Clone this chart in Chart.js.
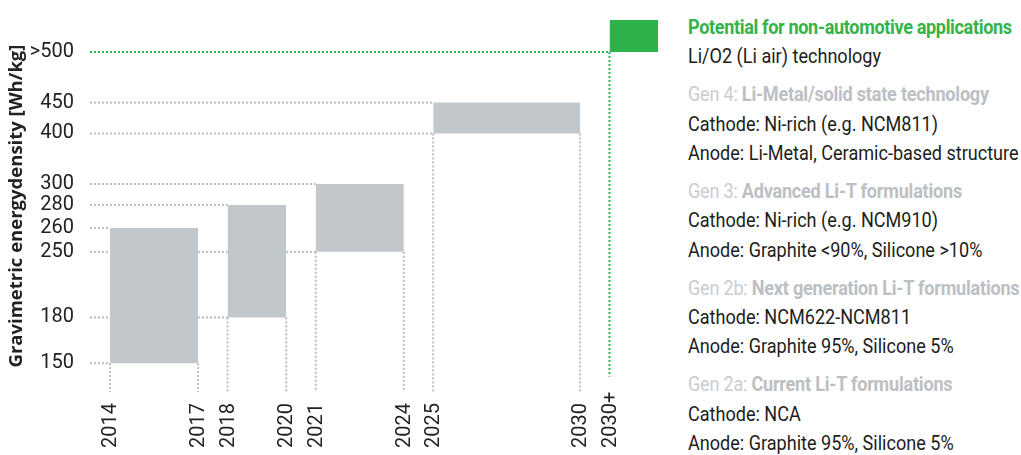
<!DOCTYPE html>
<html>
<head>
<meta charset="utf-8">
<script src="https://cdn.jsdelivr.net/npm/chart.js@4.4.0/dist/chart.umd.min.js"></script>
<style>
    html, body { margin: 0; padding: 0; background: #fff; }
    .wrap { position: relative; width: 1021px; height: 455px; overflow: hidden; }
    .chart-box { position: absolute; left: 0; top: 0; width: 680px; height: 455px; }
    .notes {
        position: absolute; left: 688px; top: 13px;
        font-family: "Roboto", sans-serif;
        font-size: 21px; color: #1d1d1b;
        transform: scaleX(0.86); transform-origin: 0 0;
    }
    .notes .group { margin-bottom: 8.8px; }
    .notes .line { height: 29.3px; line-height: 29.3px; white-space: nowrap; }
    .notes .head-green { color: #36b24a; font-weight: bold; letter-spacing: -0.4px; }
    .notes .gen { color: #cbcccd; letter-spacing: -0.25px; }
    .notes .gen b { color: #bcc0c4; }
</style>
</head>
<body>
<div class="wrap">
    <div class="chart-box"><canvas id="energyChart"></canvas></div>
    <div class="notes" id="notes"></div>
</div>
<script>
// Periods (years) and energy density ranges (Wh/kg)
const periodStart = [2014, 2018, 2021, 2025, 2031];
const periodEnd = [2017, 2020, 2024, 2030, 2032.65];
const energyLow = [150, 180, 250, 400, 500];
const energyHigh = [260, 280, 300, 450, 520];

// Axis ticks
const xTicks = [2014, 2017, 2018, 2020, 2021, 2024, 2025, 2030, 2031];
const xTickLabels = ['2014', '2017', '2018', '2020', '2021', '2024', '2025', '2030', '2030+'];
const yTicks = [150, 180, 250, 260, 280, 300, 400, 450, 500];
const yTickLabels = ['150', '180', '250', '260', '280', '300', '400', '450', '>500'];

// Right hand notes
const genTags = ['', 'Gen 4: ', 'Gen 3: ', 'Gen 2b: ', 'Gen 2a: '];
const genTitles = [
    'Potential for non-automotive applications',
    'Li-Metal/solid state technology',
    'Advanced Li-T formulations',
    'Next generation Li-T formulations',
    'Current Li-T formulations'
];
const genDetails = [
    ['Li/O2 (Li air) technology'],
    ['Cathode: Ni-rich (e.g. NCM811)', 'Anode: Li-Metal, Ceramic-based structure'],
    ['Cathode: Ni-rich (e.g. NCM910)', 'Anode: Graphite <90%, Silicone >10%'],
    ['Cathode: NCM622-NCM811', 'Anode: Graphite 95%, Silicone 5%'],
    ['Cathode: NCA', 'Anode: Graphite 95%, Silicone 5%']
];

const GREY = '#c2c7cc';
const GREEN = '#2fb24b';
const DOT_GREY = '#b7bcc1';
const X_MIN = 2013.32;
const X_MAX = 2032.65;
const Y_MIN = 135;
const Y_MAX = 520;

// The y axis of the original is not linear - map value -> fraction of axis height
const yBreaks = [
    [135, 0], [150, 0.0775], [180, 0.2005], [250, 0.377], [260, 0.441],
    [280, 0.503], [300, 0.559], [400, 0.695], [450, 0.778], [500, 0.914], [520, 1]
];

const valueToDecimal = (v) => {
    for (let i = 1; i < yBreaks.length; i++) {
        const [v0, d0] = yBreaks[i - 1];
        const [v1, d1] = yBreaks[i];
        if (v <= v1 || i === yBreaks.length - 1) {
            return d0 + (v - v0) / (v1 - v0) * (d1 - d0);
        }
    }
    return 0;
};

const decimalToValue = (d) => {
    for (let i = 1; i < yBreaks.length; i++) {
        const [v0, d0] = yBreaks[i - 1];
        const [v1, d1] = yBreaks[i];
        if (d <= d1 || i === yBreaks.length - 1) {
            return v0 + (d - d0) / (d1 - d0) * (v1 - v0);
        }
    }
    return Y_MIN;
};

class PiecewiseScale extends Chart.LinearScale {
    getPixelForValue(value) {
        return this.getPixelForDecimal(valueToDecimal(value));
    }
    getValueForPixel(pixel) {
        return decimalToValue(this.getDecimalForPixel(pixel));
    }
}
PiecewiseScale.id = 'piecewise';
PiecewiseScale.defaults = Chart.LinearScale.defaults;
Chart.register(PiecewiseScale);

// Build datasets
const datasets = [];
const dotted = (points, color) => ({
    data: points,
    borderColor: color,
    borderWidth: 2,
    borderDash: [2, 2],
    pointRadius: 0,
    fill: false,
    clip: false,
    order: 2
});

periodStart.forEach((start, i) => {
    const end = periodEnd[i];
    const isLast = i === periodStart.length - 1;
    const color = isLast ? GREEN : GREY;

    datasets.push({
        data: [{ x: start, y: energyHigh[i] }, { x: end, y: energyHigh[i] }],
        backgroundColor: color,
        borderColor: color,
        borderWidth: 0,
        pointRadius: 0,
        fill: { value: energyLow[i] },
        order: 0
    });

    if (isLast) {
        datasets.push(dotted([{ x: X_MIN, y: energyLow[i] }, { x: start, y: energyLow[i] }], GREEN));
        datasets.push(dotted([{ x: start, y: energyLow[i] }, { x: start, y: 143 }], GREEN));
    } else {
        datasets.push(dotted([{ x: X_MIN, y: energyLow[i] }, { x: start, y: energyLow[i] }], DOT_GREY));
        datasets.push(dotted([{ x: X_MIN, y: energyHigh[i] }, { x: start, y: energyHigh[i] }], DOT_GREY));
        datasets.push(dotted([{ x: start, y: energyLow[i] }, { x: start, y: Y_MIN }], DOT_GREY));
        datasets.push(dotted([{ x: end, y: energyLow[i] }, { x: end, y: Y_MIN }], DOT_GREY));
    }
});

const tickFont = { family: 'Roboto, sans-serif', size: 20 };

// Year labels read upwards and start from a common baseline at the bottom
const yearLabels = {
    id: 'yearLabels',
    afterDraw(chart) {
        const { ctx, scales: { x } } = chart;
        ctx.save();
        ctx.font = `${tickFont.size}px ${tickFont.family}`;
        ctx.fillStyle = '#222';
        ctx.textAlign = 'left';
        ctx.textBaseline = 'middle';
        xTicks.forEach((year, i) => {
            ctx.save();
            ctx.translate(x.getPixelForValue(year) + 1, 448);
            ctx.rotate(-Math.PI / 2);
            ctx.fillText(xTickLabels[i], 0, 0);
            ctx.restore();
        });
        ctx.restore();
    }
};

new Chart(document.getElementById('energyChart'), {
    type: 'line',
    data: { datasets },
    plugins: [yearLabels],
    options: {
        responsive: true,
        maintainAspectRatio: false,
        animation: false,
        layout: { padding: { top: 18, right: 22, left: 0, bottom: 0 } },
        plugins: {
            legend: { display: false },
            tooltip: { enabled: false }
        },
        scales: {
            x: {
                type: 'linear',
                min: X_MIN,
                max: X_MAX,
                grid: { display: false },
                border: { display: false },
                afterBuildTicks: (scale) => { scale.ticks = xTicks.map(v => ({ value: v })); },
                afterFit: (scale) => { scale.height = 63; },
                ticks: { display: false }
            },
            y: {
                type: 'piecewise',
                min: Y_MIN,
                max: Y_MAX,
                grid: { display: false },
                border: { display: false },
                afterBuildTicks: (scale) => { scale.ticks = yTicks.map(v => ({ value: v })); },
                afterFit: (scale) => { scale.width = 90; },
                ticks: {
                    autoSkip: false,
                    padding: 8,
                    color: '#222',
                    font: tickFont,
                    callback: (v, i) => yTickLabels[i]
                },
                title: {
                    display: true,
                    text: 'Gravimetric energydensity [Wh/kg]',
                    color: '#222',
                    font: { family: '"Open Sans", sans-serif', size: 18.5, weight: 'bold' },
                    padding: { top: 6, bottom: 0 }
                }
            }
        }
    }
});

// Right hand text
const notesEl = document.getElementById('notes');
genTitles.forEach((title, i) => {
    const group = document.createElement('div');
    group.className = 'group';
    const head = document.createElement('div');
    head.className = 'line';
    if (i === 0) {
        head.innerHTML = `<span class="head-green">${title}</span>`;
    } else {
        head.innerHTML = `<span class="gen">${genTags[i]}<b>${title}</b></span>`;
    }
    group.appendChild(head);
    genDetails[i].forEach(text => {
        const line = document.createElement('div');
        line.className = 'line';
        line.textContent = text;
        group.appendChild(line);
    });
    notesEl.appendChild(group);
});
</script>
</body>
</html>
